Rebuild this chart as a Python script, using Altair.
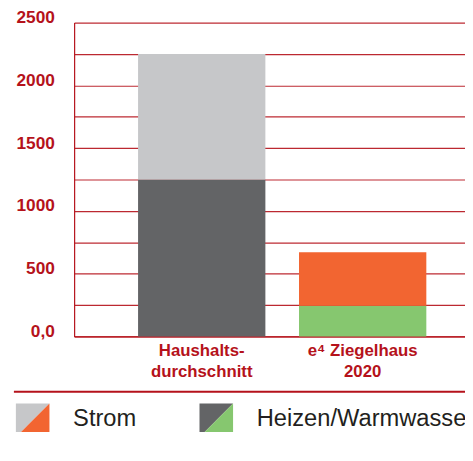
import altair as alt
import pandas as pd

# ---- data ----
categories = ["Haushalts-|durchschnitt", "e⁴ Ziegelhaus|2020"]
series = ["Heizen/Warmwasser", "Strom"]
heizen = [1250, 245]
strom = [1000, 425]
heizen_colors = ["#636466", "#86c76f"]
strom_colors = ["#c6c7c9", "#f26531"]
y_ticks = [0, 250, 500, 750, 1000, 1250, 1500, 1750, 2000, 2250, 2500]

legend_labels = ["Strom", "Heizen/Warmwasser"]
legend_upper = ["#c6c7c9", "#636466"]
legend_lower = ["#f26531", "#86c76f"]

RED = "#b5121b"
FONT = "Liberation Sans"

rows = []
for i, c in enumerate(categories):
    rows.append({"cat": c, "series": series[0], "value": heizen[i], "color": heizen_colors[i], "ord": 0})
    rows.append({"cat": c, "series": series[1], "value": strom[i], "color": strom_colors[i], "ord": 1})
df = pd.DataFrame(rows)

bars = alt.Chart(df).mark_bar().encode(
    x=alt.X("cat:N", sort=categories,
            scale=alt.Scale(paddingInner=0.209, paddingOuter=0.331, align=0.6),
            axis=alt.Axis(title=None, labelAngle=0, ticks=False, grid=False,
                          domainColor=RED, domainWidth=1.2,
                          labelExpr="split(datum.label, '|')",
                          labelColor=RED, labelFont=FONT, labelFontSize=17,
                          labelFontWeight="bold", labelLineHeight=22,
                          labelPadding=6, labelBaseline="top")),
    y=alt.Y("value:Q", stack="zero",
            scale=alt.Scale(domain=[0, 2500], nice=False),
            axis=alt.Axis(title=None, values=y_ticks, ticks=False,
                          grid=True, gridColor=RED, gridWidth=1.2, gridOpacity=0.9,
                          domainColor=RED, domainWidth=1.2,
                          labelExpr="datum.value % 500 == 0 ? (datum.value == 0 ? '0,0' : format(datum.value, 'd')) : ''",
                          labelColor=RED, labelFont=FONT, labelFontSize=17.5,
                          labelFontWeight="bold", labelPadding=20, labelOffset=-5)),
    color=alt.Color("color:N", scale=None),
    order=alt.Order("ord:Q"),
).properties(width=400, height=318)

ldf = pd.DataFrame({"i": [0, 1], "label": legend_labels,
                    "up": legend_upper, "lo": legend_lower})
sep = pd.DataFrame({"x0": [-0.102], "x1": [2.376]})

lscale = alt.Scale(domain=[0.226, 2.376], nice=False, zero=False)
lx = alt.X("i:Q", scale=lscale, axis=None)

rule = alt.Chart(sep).mark_rule(color=RED, strokeWidth=2).encode(
    x=alt.X("x0:Q", scale=lscale, axis=None), x2="x1:Q", y=alt.value(0))
up = alt.Chart(ldf).mark_point(shape="M-1,-1L1,-1L-1,1Z", size=1156, filled=True,
                                opacity=1, strokeWidth=0).encode(
    x=lx, y=alt.value(29), color=alt.Color("up:N", scale=None))
lo = alt.Chart(ldf).mark_point(shape="M1,-1L1,1L-1,1Z", size=1156, filled=True,
                                opacity=1, strokeWidth=0).encode(
    x=lx, y=alt.value(29), color=alt.Color("lo:N", scale=None))
txt = alt.Chart(ldf).mark_text(align="left", baseline="middle", dx=41, fontSize=24,
                               font=FONT, color="#231f20").encode(
    x=lx, y=alt.value(28), text="label:N")

legend = alt.layer(rule, up, lo, txt).properties(width=400, height=40)

chart = alt.vconcat(bars, legend, spacing=11).properties(
    padding={"left": 4, "top": -2, "right": -10, "bottom": -8}
).configure_view(strokeWidth=0)

chart.save("out.html", embed_options={"renderer": "svg", "actions": False})
